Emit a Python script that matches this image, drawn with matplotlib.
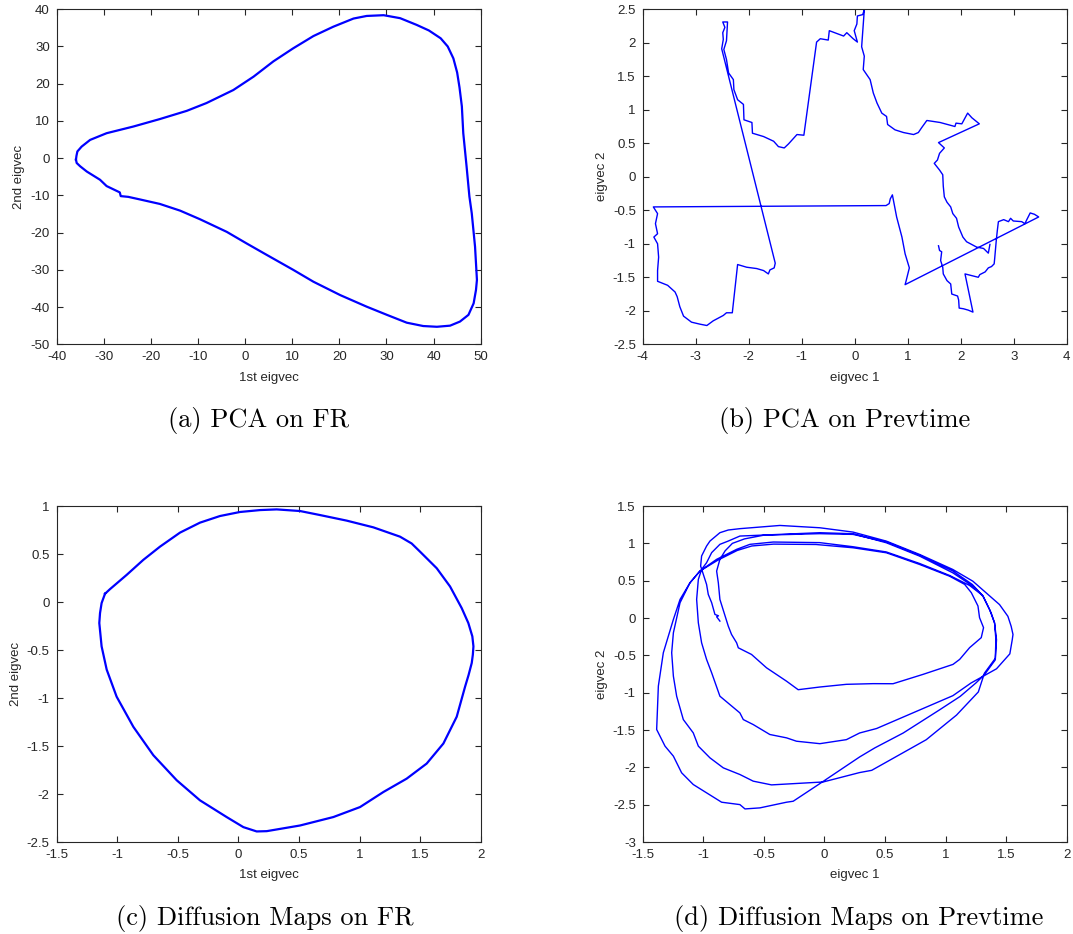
import numpy as np
import matplotlib
matplotlib.use('Agg')
import matplotlib.pyplot as plt
from matplotlib.ticker import FuncFormatter

plt.rcParams['font.family'] = ['Liberation Sans', 'DejaVu Sans']
plt.rcParams['axes.unicode_minus'] = False

# (a) PCA on FR -- closed curve
pca_fr_x = [-35.9, -35.8, -35.6, -34.7, -32.9, -29.4, -23.7, -18.1, -12.4, -8.2, -2.5, 1.8, 6.0, 10.2,
            14.5, 18.7, 23.0, 25.8, 29.4, 32.9, 36.4, 39.0, 41.5, 43.0, 44.2, 45.0, 45.5, 46.0, 46.3,
            47.0, 47.6, 48.1, 48.8, 49.2, 49.0, 48.5, 47.4, 45.6, 43.5, 40.7, 37.8, 34.3, 30.1, 25.8,
            20.2, 14.5, 10.2, 4.6, 0.3, -3.9, -9.6, -13.8, -18.1, -22.3, -24.8, -26.4, -26.6,
            -29.4, -30.8, -33.6, -35.0, -35.75, -35.9]
pca_fr_y = [-0.4, 0.6, 1.8, 3.1, 4.9, 6.7, 8.5, 10.5, 12.7, 14.8, 18.3, 21.9, 26.0, 29.5,
            32.8, 35.3, 37.5, 38.2, 38.4, 37.6, 35.8, 34.3, 32.2, 30.0, 26.8, 23.0, 19.0, 13.9, 6.7,
            -2.2, -10.3, -14.8, -23.8, -32.7, -35.4, -39.0, -42.1, -43.9, -45.0, -45.3, -45.1, -44.2,
            -42.1, -39.9, -36.8, -33.2, -30.0, -26.0, -22.9, -19.8, -16.4, -14.1, -12.3, -11.1,
            -10.4, -10.2, -9.2, -7.5, -5.8, -3.6, -2.2, -1.3, -0.4]

# (b) PCA on Prevtime
pca_prev_x = [1.58, 1.60, 1.64, 1.62, 1.66, 1.67, 1.74, 1.81, 1.83, 1.94, 1.96, 1.97, 2.05, 2.14, 2.23,
              2.08, 2.18, 2.33, 2.36, 2.46, 2.52, 2.58, 2.63, 2.64, 2.67, 2.69, 2.71, 2.81, 2.90, 2.94,
              2.99, 3.15, 3.21, 3.24, 3.31, 3.39, 3.47,
              0.95, 0.97, 1.03, 0.95, 0.89, 0.79, 0.73, 0.71, 0.67, 0.65, 0.59,
              -3.80, -3.72, -3.76, -3.72, -3.79, -3.72, -3.70, -3.72, -3.72, -3.53, -3.39, -3.35,
              -3.30, -3.23, -3.08, -2.92, -2.79, -2.67, -2.48, -2.42, -2.31,
              -2.21, -2.04, -1.85, -1.72, -1.63, -1.60, -1.52, -1.50,
              -2.51, -2.48, -2.49, -2.45, -2.49, -2.40, -2.42, -2.47, -2.42, -2.38, -2.29, -2.28,
              -2.21, -2.10, -2.09, -1.94, -1.93, -1.72, -1.53, -1.44, -1.33, -1.25, -1.09, -0.96,
              -0.72, -0.65, -0.50, -0.48, -0.21, -0.15, -0.03, 0.05, -0.01, 0.04, 0.05, 0.15, 0.18,
              0.13, 0.18, 0.16, 0.29, 0.35, 0.42, 0.51, 0.60, 0.62, 0.76, 0.92, 1.11, 1.20, 1.26,
              1.36, 1.61, 1.89, 1.91, 2.02, 2.13, 2.21, 2.35,
              1.58, 1.69, 1.60, 1.56, 1.50, 1.60, 1.66, 1.67, 1.69, 1.74, 1.81, 1.85, 1.92, 1.96,
              2.04, 2.11, 2.30, 2.43, 2.52, 2.55]
pca_prev_y = [-1.03, -1.10, -1.12, -1.25, -1.35, -1.45, -1.55, -1.60, -1.75, -1.78, -1.84, -1.96, -1.97, -1.99, -2.02,
              -1.45, -1.47, -1.50, -1.46, -1.42, -1.36, -1.34, -1.30, -1.22, -0.95, -0.80, -0.67, -0.64, -0.67, -0.62,
              -0.66, -0.67, -0.70, -0.65, -0.54, -0.56, -0.60,
              -1.61, -1.55, -1.36, -1.15, -0.90, -0.60, -0.35, -0.27, -0.33, -0.40, -0.43,
              -0.45, -0.55, -0.70, -0.85, -0.90, -1.00, -1.20, -1.40, -1.56, -1.62, -1.72, -1.79,
              -1.94, -2.08, -2.17, -2.20, -2.22, -2.15, -2.07, -2.03, -2.03,
              -1.31, -1.35, -1.37, -1.40, -1.45, -1.39, -1.36, -1.29,
              1.91, 2.05, 2.15, 2.23, 2.31, 2.31, 2.03, 1.90, 1.75, 1.55, 1.45, 1.30,
              1.15, 1.08, 0.85, 0.81, 0.65, 0.60, 0.53, 0.45, 0.43, 0.49, 0.63, 0.62,
              2.01, 2.06, 2.04, 2.18, 2.10, 2.15, 2.06, 2.01, 2.18, 2.28, 2.40, 2.42, 2.49,
              1.94, 1.80, 1.60, 1.45, 1.25, 1.10, 0.95, 0.90, 0.78, 0.70, 0.66, 0.63, 0.66, 0.73,
              0.84, 0.81, 0.75, 0.80, 0.79, 0.95, 0.88, 0.79,
              0.51, 0.43, 0.35, 0.25, 0.20, 0.10, 0.03, -0.14, -0.30, -0.38, -0.45, -0.55, -0.62, -0.75,
              -0.90, -0.97, -1.05, -1.07, -1.14, -1.01]

# (c) Diffusion Maps on FR
dm_fr_x = [-1.101, -1.06, -0.922, -0.785, -0.647, -0.482, -0.317, -0.152, 0.013, 0.179, 0.316, 0.509,
           0.674, 0.894, 1.114, 1.334, 1.430, 1.499, 1.637, 1.747, 1.843, 1.898, 1.931, 1.940, 1.935,
           1.926, 1.900, 1.871, 1.802, 1.692, 1.554, 1.389, 1.197, 1.004, 0.784, 0.509, 0.234, 0.151,
           0.041, -0.097, -0.317, -0.509, -0.702, -0.867, -1.005, -1.087, -1.129, -1.148, -1.142,
           -1.129, -1.101]
dm_fr_y = [0.086, 0.134, 0.283, 0.439, 0.577, 0.723, 0.827, 0.896, 0.938, 0.958, 0.965, 0.948,
           0.906, 0.848, 0.778, 0.681, 0.610, 0.525, 0.352, 0.162, -0.063, -0.219, -0.358, -0.462, -0.550,
           -0.635, -0.760, -0.882, -1.195, -1.474, -1.683, -1.840, -1.979, -2.136, -2.240, -2.328, -2.387,
           -2.390, -2.345, -2.240, -2.066, -1.857, -1.596, -1.300, -0.986, -0.704, -0.462, -0.219, -0.115,
           -0.011, 0.086]

# (d) Diffusion Maps on Prevtime
dm_prev_x = [-0.863, -0.890, -0.875, -0.904, -0.931, -0.959, -0.973, -1.000, -1.022, -1.014, -0.973,
             -0.945, -0.863, -0.794, -0.698, -0.423, -0.368, -0.038, 0.236, 0.511, 0.786, 1.060, 1.225,
             1.335, 1.445, 1.514, 1.541, 1.556, 1.55, 1.53, 1.42, 1.21, 1.06, 0.43, 0.29, 0.181,
             -0.038, -0.231, -0.313, -0.451, -0.588, -0.670, -0.698, -0.780, -0.863, -0.931, -0.973,
             -1.014, -1.041, -1.055, -1.041, -1.014,
             -0.973, -0.931, -0.863, -0.794, -0.698, -0.039, 0.236, 0.511, 0.786, 1.060, 1.225, 1.308,
             1.363, 1.404, 1.415, 1.41,
             1.32, 1.27, 1.09, 0.84, 0.39, 0.29, -0.011, -0.437, -0.588, -0.698, -0.835, -0.945, -1.041,
             -1.083, -1.165, -1.220, -1.247, -1.261, -1.247, -1.192, -1.110, -1.028,
             -0.890, -0.725, -0.615, -0.423, -0.04, 0.236, 0.511, 0.786, 1.033, 1.198, 1.308, 1.376,
             1.404, 1.42, 1.41,
             1.32, 1.25, 1.12, 0.95, 0.65, 0.415, 0.291, -0.04, -0.258, -0.313, -0.533, -0.656, -0.698,
             -0.849, -0.973, -1.083, -1.179, -1.247, -1.316, -1.385, -1.371, -1.330, -1.247, -1.192,
             -1.110, -1.028,
             -0.88, -0.72, -0.60, -0.42, -0.07, 0.236, 0.511, 0.786, 1.033,
             1.157, 1.212, 1.267, 1.280, 1.313, 1.294, 1.198, 1.116, 1.061, 0.813, 0.566, 0.401, 0.181,
             -0.038, -0.217,
             -0.313, -0.478, -0.602, -0.711, -0.725, -0.767, -0.794, -0.863, -0.876, -0.890, -0.863,
             -0.82, -0.76, -0.66, -0.50, -0.04, 0.236, 0.511, 0.786, 1.06, 1.22, 1.30]
dm_prev_y = [-0.041, 0.017, 0.030, 0.048, 0.205, 0.316, 0.450, 0.584, 0.696, 0.831, 0.964,
             1.031, 1.143, 1.179, 1.197, 1.232, 1.240, 1.209, 1.151, 1.030, 0.851, 0.650, 0.493,
             0.337, 0.180, 0.023, -0.111, -0.22, -0.29, -0.48, -0.68, -0.87, -1.04, -1.48, -1.54, -1.629,
             -1.683, -1.650, -1.605, -1.560, -1.427, -1.360, -1.271, -1.159, -1.047, -0.734, -0.555,
             -0.332, -0.064, 0.249, 0.517, 0.651,
             0.741, 0.876, 0.987, 1.031, 1.098, 1.143, 1.129, 1.008, 0.829, 0.605, 0.426, 0.292,
             0.113, -0.066, -0.29, -0.54,
             -0.74, -0.99, -1.30, -1.63, -2.04, -2.07, -2.196, -2.235, -2.185, -2.096, -2.007, -1.873, -1.716,
             -1.538, -1.360, -1.047, -0.779, -0.465, -0.198, 0.205, 0.472, 0.629,
             0.786, 0.920, 0.987, 1.018, 1.010, 0.955, 0.885, 0.730, 0.570, 0.436, 0.300, 0.068,
             -0.066, -0.29, -0.56,
             -0.76, -0.87, -1.05, -1.23, -1.54, -1.74, -1.86, -2.22, -2.454, -2.467, -2.543, -2.557, -2.499,
             -2.467, -2.342, -2.230, -2.073, -1.850, -1.716, -1.493, -0.912, -0.465, -0.019, 0.249,
             0.472, 0.629,
             0.775, 0.905, 0.965, 0.990, 0.985, 0.941, 0.874, 0.717, 0.560,
             0.451, 0.340, 0.161, 0.005, -0.129, -0.263, -0.397, -0.554, -0.621, -0.755, -0.880, -0.879, -0.888,
             -0.924, -0.960,
             -0.846, -0.667, -0.488, -0.399, -0.332, -0.220, -0.108, 0.249, 0.472, 0.629, 0.786,
             0.900, 1.000, 1.060, 1.110, 1.130, 1.120, 1.020, 0.840, 0.630, 0.450, 0.310]

panels = [
    dict(x=pca_fr_x, y=pca_fr_y, xlim=(-40, 50), ylim=(-50, 40), xt=np.arange(-40, 51, 10),
         yt=np.arange(-50, 41, 10), xl='1st eigvec', yl='2nd eigvec', lw=1.6,
         pos=[0.0528, 0.6314, 0.3952, 0.3587], cap='(a) PCA on FR', cx=0.2414, cy=0.5493),
    dict(x=pca_prev_x, y=pca_prev_y, xlim=(-4, 4), ylim=(-2.5, 2.5), xt=np.arange(-4, 4.1, 1),
         yt=np.arange(-2.5, 2.6, 0.5), xl='eigvec 1', yl='eigvec 2', lw=1.0,
         pos=[0.5990, 0.6314, 0.3952, 0.3587], cap='(b) PCA on Prevtime', cx=0.7875, cy=0.5493),
    dict(x=dm_fr_x, y=dm_fr_y, xlim=(-1.5, 2), ylim=(-2.5, 1), xt=np.arange(-1.5, 2.1, 0.5),
         yt=np.arange(-2.5, 1.1, 0.5), xl='1st eigvec', yl='2nd eigvec', lw=1.6,
         pos=[0.0528, 0.0985, 0.3952, 0.3597], cap='(c) Diffusion Maps on FR', cx=0.2470, cy=0.0171),
    dict(x=dm_prev_x, y=dm_prev_y, xlim=(-1.5, 2), ylim=(-3, 1.5), xt=np.arange(-1.5, 2.1, 0.5),
         yt=np.arange(-3, 1.6, 0.5), xl='eigvec 1', yl='eigvec 2', lw=1.0,
         pos=[0.5990, 0.0985, 0.3952, 0.3597], cap='(d) Diffusion Maps on Prevtime', cx=0.8005, cy=0.0171),
]

fmt = FuncFormatter(lambda v, p: f'{v:g}')

fig = plt.figure(figsize=(10.73, 9.34), dpi=100)
for p in panels:
    ax = fig.add_axes(p['pos'])
    ax.plot(p['x'], p['y'], color='#0000ff', lw=p['lw'])
    ax.set_xlim(*p['xlim'])
    ax.set_ylim(*p['ylim'])
    ax.set_xticks(p['xt'])
    ax.set_yticks(p['yt'])
    ax.xaxis.set_major_formatter(fmt)
    ax.yaxis.set_major_formatter(fmt)
    ax.tick_params(direction='in', top=True, right=True, length=4, width=0.8,
                   labelsize=9.5, colors='#262626', pad=5)
    for s in ax.spines.values():
        s.set_color('#262626')
        s.set_linewidth(0.8)
    ax.set_xlabel(p['xl'], fontsize=9.5, color='#262626', labelpad=6)
    ax.set_ylabel(p['yl'], fontsize=9.5, color='#262626', labelpad=3.5)
    fig.text(p['cx'], p['cy'], p['cap'], family='cmr10', fontsize=19,
             ha='center', va='center')

fig.savefig('out.png', dpi=100)
